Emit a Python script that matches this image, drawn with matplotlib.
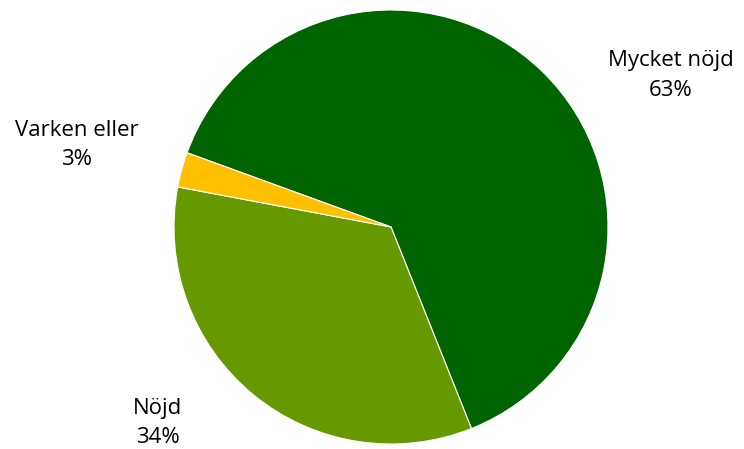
import matplotlib.pyplot as plt

categories = ["Mycket nöjd", "Nöjd", "Varken eller"]
values = [63.4, 34.0, 2.6]
pct_labels = ["63%", "34%", "3%"]
colors = ["#006400", "#669900", "#FFC000"]

# label positions in pie units (radius = 1)
label_pos = [(1.29, 0.70), (-1.074, -0.903), (-1.447, 0.378)]

fig = plt.figure(figsize=(7.44, 4.49), dpi=100)
ax = fig.add_axes([0, 0, 1, 1])

ax.pie(values, colors=colors, startangle=160, counterclock=False, radius=1.0,
       wedgeprops=dict(linewidth=0.8, edgecolor="white"))

for name, pct, (x, y) in zip(categories, pct_labels, label_pos):
    ax.text(x, y, name + "\n" + pct, ha="center", va="center", fontsize=16,
            family="Open Sans", linespacing=1.55, color="black")

ax.set_aspect("auto")
ax.set_xlim(-391 / 217, (744 - 391) / 217)
ax.set_ylim(-(449 - 227) / 217, 227 / 217)
ax.axis("off")

fig.savefig("out.png", dpi=100)
